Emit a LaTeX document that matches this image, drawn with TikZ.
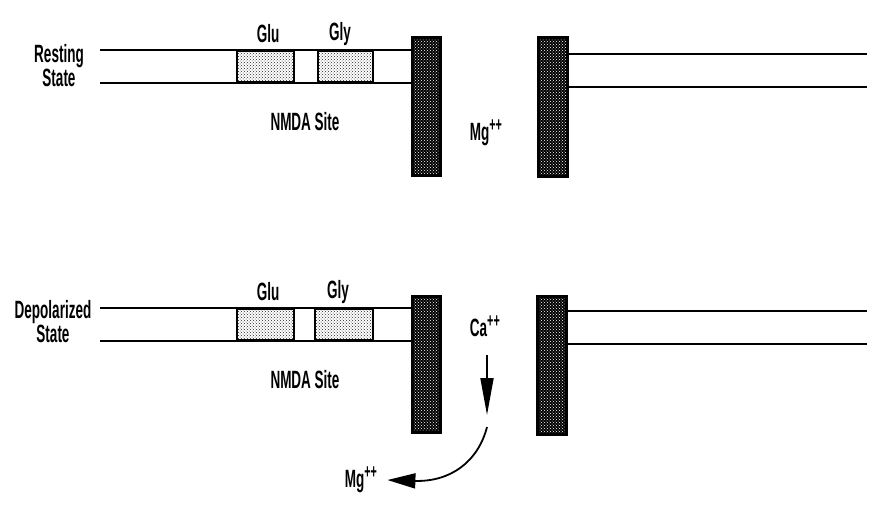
\documentclass[tikz,border=0pt]{standalone}
\usepackage{fontspec}
\setmainfont{Liberation Sans}
\usetikzlibrary{patterns,arrows.meta}
\newcommand{\cnd}[1]{\scalebox{0.54}[1]{#1}}
\newcommand{\supp}{\textsuperscript{\fontsize{20}{20}\selectfont ++}}
\begin{document}
\begin{tikzpicture}[x=1pt,y=-1pt,
  lbl/.style={font=\fontsize{25}{26}\selectfont\bfseries, inner sep=0},
  membrane/.style={line width=2.8pt},
  bar/.style={draw, line width=3pt, inner sep=0, preaction={fill=black}, pattern=crosshatch dots, pattern color=white},
  site/.style={draw, line width=2.8pt, inner sep=0, preaction={fill=white}, pattern=crosshatch dots, pattern color=black!85},
  ionarrow/.style={line width=1.8pt}]
\useasboundingbox (0,0) rectangle (890,523);
% ---------- Resting state ----------
\node[lbl, align=center] (rest) at (59,66) {\cnd{Resting}\\[-2pt]\cnd{State}};
\coordinate (rt1) at (100,50);
\coordinate (rt2) at (100,83);
\node[bar, minimum width=28, minimum height=138] (rbarL) at (426,106) {};
\node[bar, minimum width=29, minimum height=139] (rbarR) at (552.5,106.5) {};
\draw[membrane] (rt1) -- (rt1 -| rbarL.west);
\draw[membrane] (rt2) -- (rt2 -| rbarL.west);
\node[site, minimum width=57, minimum height=31] (rglu) at (265.5,66.5) {};
\node[site, minimum width=55, minimum height=31] (rgly) at (345.5,66.5) {};
\coordinate (rr1) at (867,54);
\coordinate (rr2) at (867,87);
\draw[membrane] (rr1 -| rbarR.east) -- (rr1);
\draw[membrane] (rr2 -| rbarR.east) -- (rr2);
\node[lbl] (rglut) at (268,34) {\cnd{Glu}};
\node[lbl] (rglyt) at (340,34) {\cnd{Gly}};
\node[lbl] (rnmda) at (305,122) {\cnd{NMDA Site}};
\node[lbl] (rmg) at (486,133) {\cnd{Mg\supp}};
% ---------- Depolarized state ----------
\node[lbl, align=center] (dep) at (53,322) {\cnd{Depolarized}\\[-2pt]\cnd{State}};
\coordinate (dt1) at (100,308);
\coordinate (dt2) at (100,341);
\node[bar, minimum width=28, minimum height=136] (dbarL) at (426,364) {};
\node[bar, minimum width=29, minimum height=138] (dbarR) at (552,365) {};
\draw[membrane] (dt1) -- (dt1 -| dbarL.west);
\draw[membrane] (dt2) -- (dt2 -| dbarL.west);
\node[site, minimum width=57, minimum height=31] (dglu) at (265.5,324.5) {};
\node[site, minimum width=58, minimum height=31] (dgly) at (344,324.5) {};
\coordinate (dr1) at (867,311);
\coordinate (dr2) at (867,344);
\draw[membrane] (dr1 -| dbarR.east) -- (dr1);
\draw[membrane] (dr2 -| dbarR.east) -- (dr2);
\node[lbl] (dglut) at (268,292) {\cnd{Glu}};
\node[lbl] (dglyt) at (338,292) {\cnd{Gly}};
\node[lbl] (dnmda) at (305,380) {\cnd{NMDA Site}};
\node[lbl] (dca) at (485,326) {\cnd{Ca\supp}};
\node[lbl] (dmg) at (361,480) {\cnd{Mg\supp}};
\coordinate (cabase) at (487,355);
\coordinate (catip) at (487,415);
\coordinate (curvestart) at (487,427);
\draw[ionarrow, -{Triangle[length=37pt,width=13pt]}] (cabase) -- (catip);
\draw[ionarrow, -{Triangle[length=28pt,width=15pt]}] (curvestart) .. controls (478,462) and (450,482) .. ([xshift=10pt]dmg.east);
\end{tikzpicture}
\end{document}
